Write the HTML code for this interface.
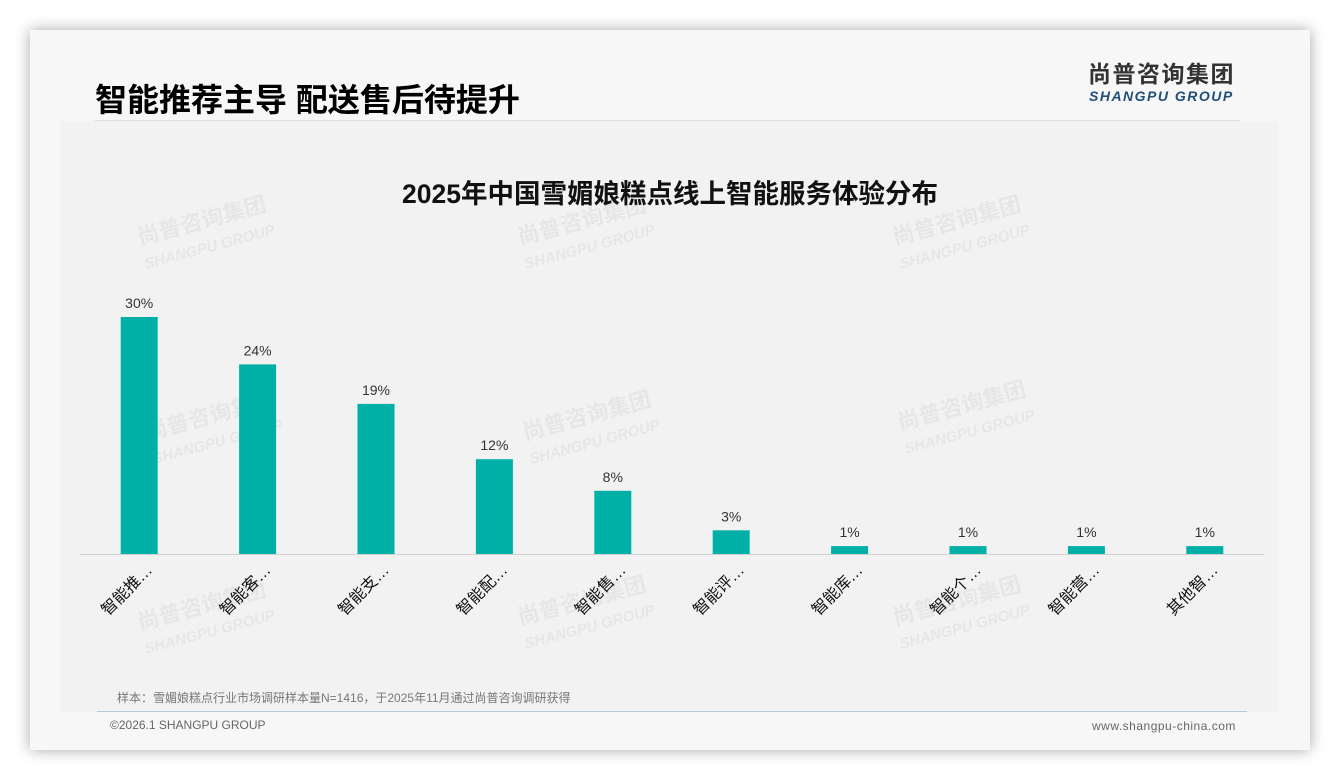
<!DOCTYPE html>
<html><head><meta charset="utf-8">
<style>
body{margin:0;width:1340px;height:780px;background:#fff;position:relative;overflow:hidden;font-family:"Liberation Sans","Noto Sans CJK SC",sans-serif;}
#card{position:absolute;left:30px;top:30px;width:1280px;height:720px;background:#f7f7f7;box-shadow:0 0 14px rgba(0,0,0,0.35);}
#plotbg{position:absolute;left:60px;top:121px;width:1218px;height:591px;background:#f2f2f2;}
.abs{position:absolute;white-space:nowrap;}
</style></head><body>
<div id="card"></div>
<div id="plotbg"></div>
<div class="abs" style="left:95px;top:75px;font-size:32px;font-weight:bold;color:#000;">智能推荐主导 配送售后待提升</div>
<div class="abs" style="left:95px;top:120px;width:1145px;height:1px;background:#ddd;"></div>
<div class="abs" style="left:1088px;top:61px;font-size:23px;line-height:26px;font-weight:bold;color:#333;letter-spacing:1.5px;">尚普咨询集团</div>
<div class="abs" style="left:1089px;top:88px;font-size:14px;line-height:16px;font-weight:bold;font-style:italic;color:#1f4e79;letter-spacing:1.5px;">SHANGPU GROUP</div>
<svg class="abs" style="left:0;top:0" width="1340" height="780">
<g id="wm" fill="#000" opacity="0.05" font-weight="bold"></g>
<text x="670" y="203" text-anchor="middle" font-size="26.5" font-weight="bold" fill="#111">2025年中国雪媚娘糕点线上智能服务体验分布</text>
<line x1="80" y1="554.5" x2="1264" y2="554.5" stroke="#d0d0d0"/>
<g id="bars"></g>
</svg>
<div class="abs" style="left:117px;top:689px;font-size:12px;color:#777;">样本：雪媚娘糕点行业市场调研样本量N=1416，于2025年11月通过尚普咨询调研获得</div>
<div class="abs" style="left:97px;top:711px;width:1150px;height:1px;background:#b8c8d8;"></div>
<div class="abs" style="left:110px;top:718px;font-size:12px;color:#666;">©2026.1 SHANGPU GROUP</div>
<div class="abs" style="left:1092px;top:719px;font-size:12px;color:#666;letter-spacing:0.5px;">www.shangpu-china.com</div>
<script>
const categories=["智能推…","智能客…","智能支…","智能配…","智能售…","智能评…","智能库…","智能个…","智能营…","其他智…"];
const values=[30,24,19,12,8,3,1,1,1,1];
const valueLabels=["30%","24%","19%","12%","8%","3%","1%","1%","1%","1%"];
const NS="http://www.w3.org/2000/svg";
const x0=80,x1=1264,base=554,pxPer=7.9,bw=37;
const step=(x1-x0)/categories.length;
const xc=i=>x0+step*(i+0.5);
const ys=v=>base-v*pxPer;
const g=document.getElementById('bars');
categories.forEach((c,i)=>{
 const r=document.createElementNS(NS,'rect');
 r.setAttribute('x',xc(i)-bw/2);r.setAttribute('y',ys(values[i]));
 r.setAttribute('width',bw);r.setAttribute('height',base-ys(values[i]));
 r.setAttribute('fill','#00b0a6');
 
 
 g.appendChild(r);
 const t=document.createElementNS(NS,'text');
 t.setAttribute('x',xc(i));t.setAttribute('y',ys(values[i])-9);
 t.setAttribute('text-anchor','middle');t.setAttribute('font-size','14');t.setAttribute('fill','#333');
 t.textContent=valueLabels[i];
 
 
 g.appendChild(t);
 const l=document.createElementNS(NS,'text');
 l.setAttribute('text-anchor','end');l.setAttribute('font-size','16');l.setAttribute('fill','#111');
 l.setAttribute('transform','translate('+(xc(i)+14)+',571) rotate(-45)');
 l.textContent=c;
 
 
 g.appendChild(l);
});
const wm=document.getElementById('wm');
[[140,245],[520,245],[895,245],[148,440],[525,440],[900,430],[140,630],[520,625],[895,625]].forEach(p=>{
 const a=document.createElementNS(NS,'text');
 a.setAttribute('transform','translate('+p[0]+','+p[1]+') rotate(-15)');
 a.setAttribute('font-size','22');a.textContent='尚普咨询集团';
 
 
 wm.appendChild(a);
 const b=document.createElementNS(NS,'text');
 b.setAttribute('transform','translate('+(p[0]+6)+','+(p[1]+24)+') rotate(-15)');
 b.setAttribute('font-size','15');b.setAttribute('font-style','italic');b.textContent='SHANGPU GROUP';
 
 
 wm.appendChild(b);
});
</script>
</body></html>
